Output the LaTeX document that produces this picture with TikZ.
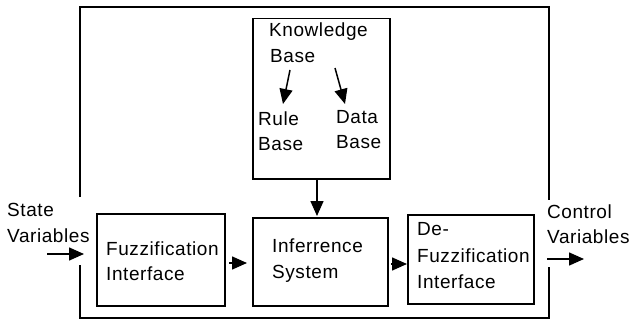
\documentclass[tikz,border=0pt]{standalone}
\usepackage{fontspec}
\setmainfont{Liberation Sans}[LetterSpace=3]
\usetikzlibrary{arrows.meta}
\begin{document}
\begin{tikzpicture}[x=1pt,y=-1pt,
  blk/.style={draw, line width=1.5pt, rectangle, inner sep=0pt, anchor=north west},
  lbl/.style={anchor=base west, inner sep=0pt, font=\fontsize{19}{26}\selectfont},
  arr/.style={line width=1.5pt, -{Triangle[length=15pt,width=13pt]}},
  frame/.style={line width=1.8pt}]
\useasboundingbox (0,0) rectangle (632,321);
\fill[white] (0,0) rectangle (632,321);

% outer frame, open where the inputs and outputs pass through
\coordinate (f1) at (80,197);
\coordinate (f2) at (80,7);
\coordinate (f3) at (549,7);
\coordinate (f4) at (549,200);
\coordinate (f5) at (80,265);
\coordinate (f6) at (80,318);
\coordinate (f7) at (549,318);
\coordinate (f8) at (549,267);
\draw[frame] (f1) -- (f2) -- (f3) -- (f4);
\draw[frame] (f5) -- (f6) -- (f7) -- (f8);

% blocks
\node[blk, minimum width=137pt, minimum height=160pt] (kb) at (252,18) {};
\node[blk, minimum width=128pt, minimum height=92pt] (fz) at (96,213) {};
\node[blk, minimum width=135pt, minimum height=88pt] (inf) at (252,217) {};
\node[blk, minimum width=126pt, minimum height=89pt] (dfz) at (407,214) {};

% texts
\node[lbl] (t1) at (269,37) {Knowledge};
\node[lbl] (t2) at (270,63) {Base};
\node[lbl] (t3) at (258,125) {Rule};
\node[lbl] (t4) at (258,150) {Base};
\node[lbl] (t5) at (336,123) {Data};
\node[lbl] (t6) at (336,148) {Base};
\node[lbl] (t7) at (7,216) {State};
\node[lbl] (t8) at (7,242) {Variables};
\node[lbl] (t9) at (106,255) {Fuzzification};
\node[lbl] (t10) at (106,280) {Interface};
\node[lbl] (t11) at (272,252) {Inferrence};
\node[lbl] (t12) at (272,278) {System};
\node[lbl] (t13) at (417,235) {De-};
\node[lbl] (t14) at (417,262) {Fuzzification};
\node[lbl] (t15) at (417,288) {Interface};
\node[lbl] (t16) at (547,218) {Control};
\node[lbl] (t17) at (547,243) {Variables};

% arrow end points
\coordinate (kbl) at (290,70);
\coordinate (rbt) at (283,104);
\coordinate (kbr) at (335,68);
\coordinate (dbt) at (345,104);
\coordinate (kbo) at (317,178);
\coordinate (infi) at (317,216);
\coordinate (svs) at (47,254);
\coordinate (sve) at (84,254);
\coordinate (fzo) at (229,263);
\coordinate (infin) at (247,263);
\coordinate (info) at (391,264);
\coordinate (dfzi) at (407,264);
\coordinate (cvs) at (547,259);
\coordinate (cve) at (584,259);

% connectors
\draw[arr] (kbl) -- (rbt);
\draw[arr] (kbr) -- (dbt);
\draw[arr] (kbo) -- (infi);
\draw[arr] (svs) -- (sve);
\draw[arr] (fzo) -- (infin);
\draw[arr] (info) -- (dfzi);
\draw[arr] (cvs) -- (cve);
\end{tikzpicture}
\end{document}
